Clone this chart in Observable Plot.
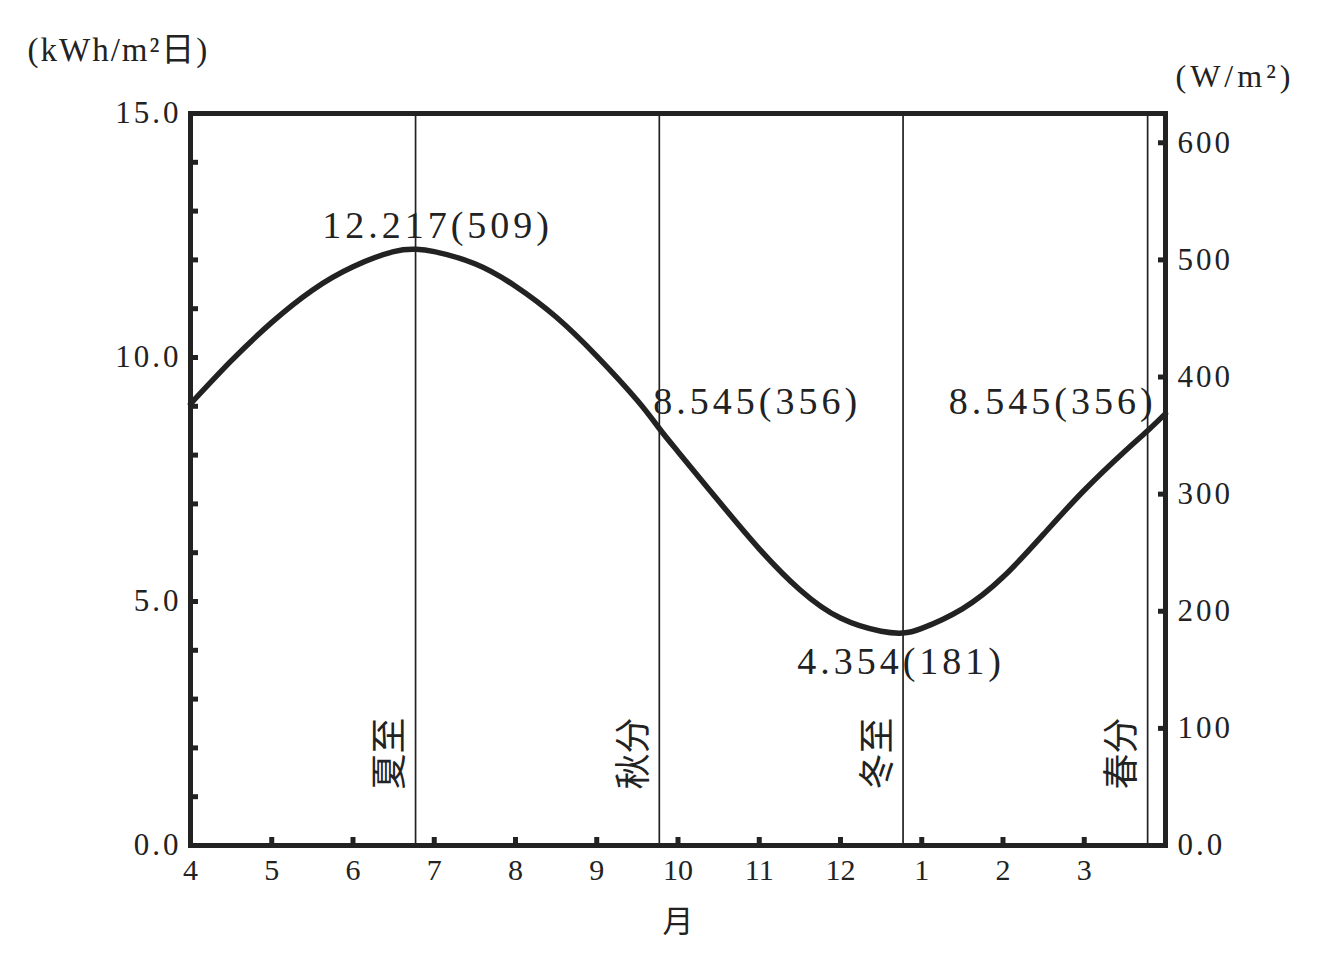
<!DOCTYPE html>
<html>
<head>
<meta charset="utf-8">
<script src="https://cdn.jsdelivr.net/npm/d3@7"></script>
<script src="https://cdn.jsdelivr.net/npm/@observablehq/plot@0.6"></script>
<style>
  html, body { margin: 0; padding: 0; background: #fff; }
  svg { display: block; }
  g[aria-label="y-axis tick label"] text { letter-spacing: 3px; }
</style>
</head>
<body>
<div id="chart"></div>
<script>
// Month offset from 1 April (0 = Apr 1, 12 = next Apr 1) and daily irradiation (kWh/m²·day)
const monthPos = [0, 0.5, 1, 1.5, 2, 2.5, 2.77, 3, 3.5, 4, 4.5, 5, 5.5, 5.77, 6, 6.5, 7, 7.5, 8, 8.5, 8.77, 9, 9.5, 10, 10.5, 11, 11.5, 11.78, 12];
const kwhValues = [9.05, 9.93, 10.72, 11.38, 11.86, 12.17, 12.217, 12.17, 11.92, 11.46, 10.83, 10.03, 9.12, 8.545, 8.07, 7.06, 6.08, 5.24, 4.66, 4.39, 4.354, 4.45, 4.85, 5.50, 6.38, 7.28, 8.08, 8.50, 8.85];

// Solar terms
const termNames = ["夏至", "秋分", "冬至", "春分"];
const termPos = [2.77, 5.77, 8.77, 11.78];
const termKwh = [12.217, 8.545, 4.354, 8.545];
const termW = [509, 356, 181, 356];

// Axis ticks
const monthLabels = ["4", "5", "6", "7", "8", "9", "10", "11", "12", "1", "2", "3"];
const leftMinorTicks = d3.range(0, 16, 1);
const leftLabelTicks = [0, 5, 10, 15];
const rightWTicks = [0, 100, 200, 300, 400, 500, 600];
const kwhPerW = 24 / 1000; // 1 W/m² averaged over 24 h

const curve = monthPos.map((t, i) => ({t, v: kwhValues[i]}));
const terms = termNames.map((n, i) => ({name: n, t: termPos[i], v: termKwh[i], w: termW[i], label: `${termKwh[i].toFixed(3)}(${termW[i]})`}));

const ink = "#222";
const serif = "'Liberation Serif', 'Noto Sans CJK SC', serif";
const cjk = "'Noto Sans CJK SC', sans-serif";

// annotation placement per term
const annot = [
  {i: 0, textAnchor: "middle", dx: 22, dy: -23},
  {i: 1, textAnchor: "start", dx: -6, dy: -27},
  {i: 2, textAnchor: "middle", dx: -2, dy: 29},
  {i: 3, textAnchor: "end", dx: 9, dy: -27}
];

const chart = Plot.plot({
  width: 1320,
  height: 964,
  marginLeft: 190,
  marginRight: 155,
  marginTop: 113,
  marginBottom: 119,
  x: {domain: [0, 12]},
  y: {domain: [0, 15]},
  style: {fontFamily: serif, fontSize: "29px", color: ink, background: "#fff"},
  marks: [
    Plot.ruleX(terms, {x: "t", stroke: ink, strokeWidth: 1.7}),
    Plot.line(curve, {x: "t", y: "v", stroke: ink, strokeWidth: 5.5, curve: "natural"}),
    Plot.frame({stroke: ink, strokeWidth: 5}),
    // left axis: inward minor ticks
    Plot.axisY({anchor: "left", ticks: leftMinorTicks, tickSize: -8, strokeWidth: 5, tickFormat: () => "", label: null}),
    // left axis labels
    Plot.axisY({anchor: "left", ticks: leftLabelTicks, tickSize: 0, tickPadding: 9, tickFormat: d => d.toFixed(1), fontSize: 31, label: null}),
    // right axis (W/m²)
    Plot.axisY({anchor: "right", ticks: rightWTicks.map(w => w * kwhPerW), tickSize: -8, strokeWidth: 5, tickFormat: () => "", label: null}),
    Plot.axisY({anchor: "right", ticks: rightWTicks.map(w => w * kwhPerW), tickSize: 0, tickPadding: 12, fontSize: 31,
      tickFormat: d => { const w = Math.round(d / kwhPerW); return w === 0 ? "0.0" : String(w); }, label: null}),
    // bottom axis
    Plot.axisX({anchor: "bottom", ticks: d3.range(1, 12), tickSize: -8, strokeWidth: 5, tickFormat: () => "", label: null}),
    Plot.axisX({anchor: "bottom", ticks: d3.range(0, 12), tickSize: 0, tickPadding: 13, fontSize: 30,
      tickFormat: d => monthLabels[d], label: null}),
    // solar term labels (vertical)
    Plot.text(terms, {x: "t", frameAnchor: "bottom", text: "name", rotate: -90, dx: -25, dy: -92,
      fontFamily: cjk, fontSize: 36, fill: ink, textAnchor: "middle", lineAnchor: "middle"}),
    // value annotations
    ...annot.map(a => Plot.text([terms[a.i]], {x: "t", y: "v", text: "label", textAnchor: a.textAnchor,
      dx: a.dx, dy: a.dy, fontSize: 38, fill: ink, lineAnchor: "middle", fontFamily: serif})),
    // axis titles
    Plot.text(["(kWh/m²日)"], {frameAnchor: "top-left", text: d => d, textAnchor: "start", dx: -163, dy: -63,
      fontSize: 33, fontFamily: serif, fill: ink, lineAnchor: "middle"}),
    Plot.text(["(W/m²)"], {frameAnchor: "top-right", text: d => d, textAnchor: "start", dx: 10, dy: -37,
      fontSize: 32, fontFamily: serif, fill: ink, lineAnchor: "middle"}),
    Plot.text(["月"], {frameAnchor: "bottom", text: d => d, dy: 77, fontSize: 31, fontFamily: cjk, fill: ink, lineAnchor: "middle"})
  ]
});

// letter spacing to mimic the wide typeset glyph pitch of the original
d3.select(chart).selectAll("text").each(function () {
  const t = this.textContent;
  if (/^\d+\.\d+\(\d+\)$/.test(t)) this.setAttribute("letter-spacing", "4");
  else if (t === "(kWh/m²日)") this.setAttribute("letter-spacing", "2");
  else if (t === "(W/m²)") this.setAttribute("letter-spacing", "4");
});

document.getElementById("chart").append(chart);
</script>
</body>
</html>
